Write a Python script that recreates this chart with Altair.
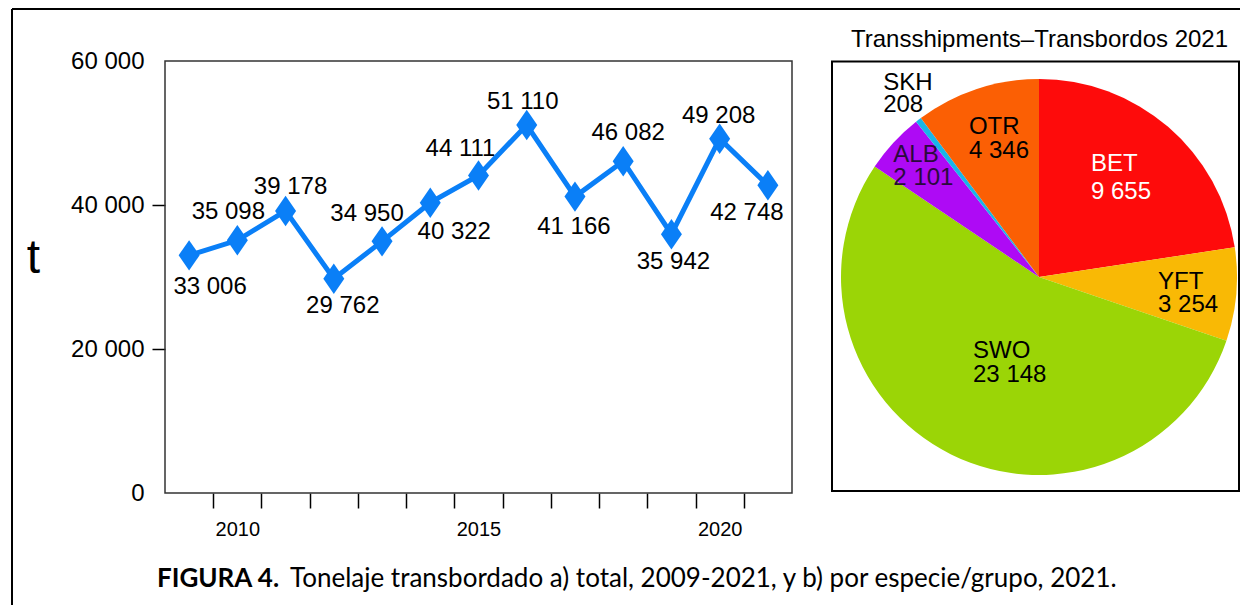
import altair as alt
import pandas as pd

# ---------------- data ----------------
YEARS = [2009, 2010, 2011, 2012, 2013, 2014, 2015, 2016, 2017, 2018, 2019, 2020, 2021]
TONNES = [33006, 35098, 39178, 29762, 34950, 40322, 44111, 51110, 41166, 46082, 35942, 49208, 42748]

SPECIES = ["BET", "YFT", "SWO", "ALB", "SKH", "OTR"]
CATCH_2021 = [9655, 3254, 23148, 2101, 208, 4346]

Y_TICKS = [0, 20000, 40000, 60000]
X_LABEL_YEARS = [2010, 2015, 2020]

TITLE_PIE = "Transshipments\u2013Transbordos 2021"
CAPTION_BOLD = "FIGURA 4."
CAPTION_REST = "Tonelaje transbordado a) total, 2009-2021, y b) por especie/grupo, 2021."

# ---------------- styles ----------------
LABEL_DX = [21, -9, 5, 9, -15, 24, -18, -4, -1, 5, 2, -1, -21]
LABEL_DY = [32, -28, -24, 27, -27, 29, -26, -23, 30, -28, 28, -23, 28]

PIE_COLORS = ["#fe0b0b", "#f9b905", "#9bd506", "#ae0af5", "#19b5e8", "#fb5f04"]
PIE_TEXT_COLORS = ["white", "black", "black", "#2a0a3c", "black", "black"]
PIE_LH = [28, 23, 24, 23, 22, 24]
PIE_DX = [-25, 1.5, -13.6, -59, -84, -33]
PIE_DY = [-10 - 14, 6 - 11.5, -20 - 12, -30.4 - 11.5, -89.4 - 11, -26 - 12]

W, H = 1232, 597
FONT = "Liberation Sans"
BLUE = "#0a7ff7"


def spaced(v):
    return f"{v:,}".replace(",", " ")


line_df = pd.DataFrame({"year": YEARS, "t": TONNES, "lbl": [spaced(v) for v in TONNES]})
pie_df = pd.DataFrame({
    "species": SPECIES,
    "value": CATCH_2021,
    "idx": list(range(len(SPECIES))),
    "label": [f"{s}\n{spaced(v)}" for s, v in zip(SPECIES, CATCH_2021)],
})
one = pd.DataFrame({"a": [0]})

x_scale = alt.Scale(domain=[YEARS[0] - 0.5, YEARS[-1] + 0.5], range=[157, 784], nice=False, zero=False)
y_scale = alt.Scale(domain=[Y_TICKS[0], Y_TICKS[-1]], range=[485, 53], nice=False)

x_tick_values = [y + 0.5 for y in YEARS[:-1]] + X_LABEL_YEARS
x_axis = alt.Axis(
    values=x_tick_values, title=None, domain=False, grid=False, offset=-(H - 485),
    tickSize=15, tickColor="black", tickWidth=1.5,
    tickOpacity={"condition": {"test": "datum.value % 1 === 0", "value": 0}, "value": 1},
    labelExpr="datum.value % 5 === 0 ? format(datum.value, 'd') : ''",
    labelFont=FONT, labelFontSize=20, labelColor="black", labelPadding=11,
    labelOverlap=False, labelFlush=False,
)
y_axis = alt.Axis(
    values=Y_TICKS, title="t", domain=False, grid=False, offset=-157,
    tickSize=13, tickColor="black", tickWidth=1.5,
    tickOpacity={"condition": {"test": "datum.value === 0 || datum.value === 60000", "value": 0}, "value": 1},
    labelExpr="replace(format(datum.value, ','), ',', ' ')",
    labelFont=FONT, labelFontSize=24, labelColor="black", labelPadding=8,
    titleFont=FONT, titleFontSize=48, titleFontWeight="normal", titleColor="black",
    titleAngle=0, titleX=-132, titleY=250, titleAlign="center", titleBaseline="middle",
)

X = alt.X("year:Q", scale=x_scale, axis=x_axis)
Y = alt.Y("t:Q", scale=y_scale, axis=y_axis)

layers = []

# outer figure frame (left and top edges visible)
layers.append(alt.Chart(one).mark_rule(color="black", strokeWidth=2).encode(
    x=alt.value(4), y=alt.value(1), y2=alt.value(H)))
layers.append(alt.Chart(one).mark_rule(color="black", strokeWidth=2).encode(
    x=alt.value(4), x2=alt.value(W), y=alt.value(1)))

# line chart box
layers.append(alt.Chart(one).mark_rect(fill="white", fillOpacity=0, stroke="#333333", strokeWidth=1.5).encode(
    x=alt.X(datum=YEARS[0] - 0.5, type="quantitative", scale=x_scale, axis=x_axis),
    x2=alt.X2(datum=YEARS[-1] + 0.5),
    y=alt.Y(datum=Y_TICKS[0], type="quantitative", scale=y_scale, axis=y_axis),
    y2=alt.Y2(datum=Y_TICKS[-1]),
))

# data labels
for i, yr in enumerate(YEARS):
    layers.append(alt.Chart(line_df).transform_filter(alt.datum.year == yr).mark_text(
        font=FONT, fontSize=24, color="black", align="center", baseline="middle",
        dx=LABEL_DX[i], dy=LABEL_DY[i]).encode(x=X, y=Y, text="lbl:N"))

layers.append(alt.Chart(line_df).mark_line(color=BLUE, strokeWidth=5).encode(x=X, y=Y))
layers.append(alt.Chart(line_df).mark_point(
    shape="M0,-1.45L1,0L0,1.45L-1,0Z", size=441, filled=True, color=BLUE, opacity=1).encode(x=X, y=Y))

# pie box + title
layers.append(alt.Chart(one).mark_rect(fill="white", fillOpacity=0, stroke="black", strokeWidth=2).encode(
    x=alt.value(824), x2=alt.value(1231), y=alt.value(53.5), y2=alt.value(483)))
layers.append(alt.Chart(one).mark_text(
    text=TITLE_PIE, font=FONT, fontSize=24, color="black", align="center", baseline="middle").encode(
    x=alt.value(1031.5), y=alt.value(32)))

PCX, PCY, PR = 1031, 269, 198
theta = alt.Theta("value:Q", stack=True)
order = alt.Order("idx:Q")
layers.append(alt.Chart(pie_df).mark_arc(outerRadius=PR).encode(
    theta=theta, order=order,
    color=alt.Color("species:N", scale=alt.Scale(domain=SPECIES, range=PIE_COLORS), legend=None),
    x=alt.value(PCX), y=alt.value(PCY)))

for k, sp in enumerate(SPECIES):
    layers.append(alt.Chart(pie_df).mark_text(
        radius=118, font=FONT, fontSize=24, color=PIE_TEXT_COLORS[k], align="left", baseline="middle",
        lineBreak="\n", lineHeight=PIE_LH[k], dx=PIE_DX[k], dy=PIE_DY[k]).encode(
        theta=theta, order=order,
        text=alt.condition(alt.datum.species == sp, "label:N", alt.value("")),
        x=alt.value(PCX), y=alt.value(PCY)))

# caption
layers.append(alt.Chart(one).mark_text(
    text=CAPTION_BOLD, font="Lato", fontWeight="bold", fontSize=26, color="black",
    align="left", baseline="alphabetic").encode(x=alt.value(149), y=alt.value(579)))
layers.append(alt.Chart(one).mark_text(
    text=CAPTION_REST, font="Lato", fontSize=26, color="black",
    align="left", baseline="alphabetic").encode(x=alt.value(282), y=alt.value(579)))

chart = alt.layer(*layers).properties(
    width=W, height=H, padding=0,
    autosize=alt.AutoSizeParams(type="none"),
    background="white",
).configure_view(stroke=None)

chart.save("out.html", embed_options={"renderer": "svg", "actions": False})
